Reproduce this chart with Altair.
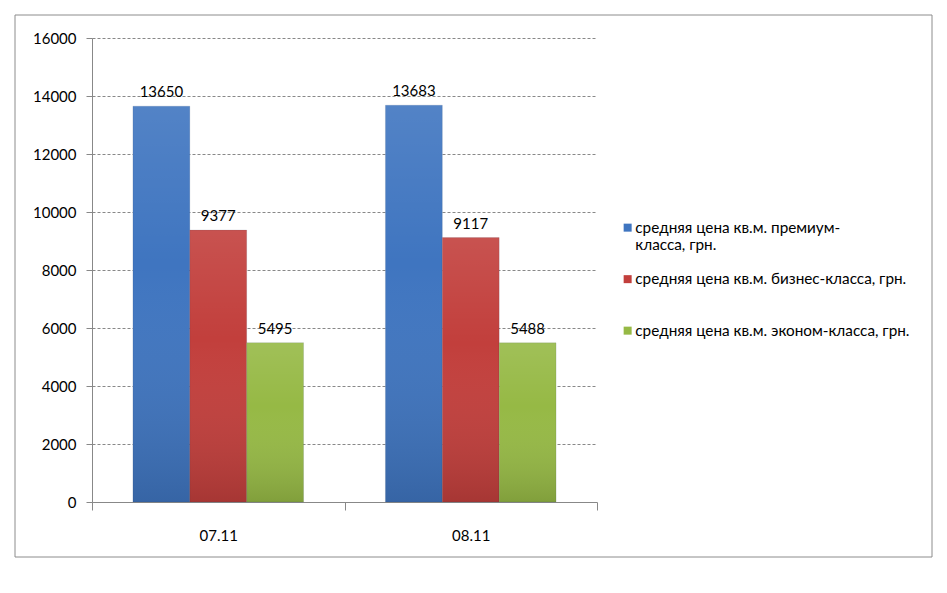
import altair as alt
import pandas as pd

dates = ["07.11", "08.11"]
series = [
    "средняя цена кв.м. премиум-класса, грн.",
    "средняя цена кв.м. бизнес-класса, грн.",
    "средняя цена кв.м. эконом-класса, грн.",
]
premium = [13650, 13683]
business = [9377, 9117]
economy = [5495, 5488]
colors = ["#3f75c0", "#c23f3c", "#96b945"]

rows = []
for i, d in enumerate(dates):
    for s, vals in zip(series, [premium, business, economy]):
        rows.append({"date": d, "series": s, "value": vals[i]})
df = pd.DataFrame(rows)

FONT = "Lato"

x_enc = alt.X("date:N", title=None,
              scale=alt.Scale(paddingInner=0, paddingOuter=0),
              axis=alt.Axis(labelAngle=0, tickBand="extent", tickSize=8,
                            labelPadding=18, labelFontSize=15, labelFont=FONT,
                            labelColor="#000", domainColor="#888", tickColor="#888"))
xo_enc = alt.XOffset("series:N", sort=series,
                     scale=alt.Scale(paddingInner=0, paddingOuter=0.72))
y_enc = alt.Y("value:Q", title=None,
              scale=alt.Scale(domain=[0, 16000]),
              axis=alt.Axis(values=list(range(0, 16001, 2000)), format="d", tickSize=6,
                            labelPadding=10, labelFontSize=15, labelFont=FONT,
                            labelColor="#000", domainColor="#888", tickColor="#888",
                            gridColor="#888", gridDash=[3, 2], grid=True))

base = alt.Chart(df)

bars = base.mark_bar(stroke="#2a3f5f", strokeOpacity=0.25, strokeWidth=0.5).encode(
    x=x_enc, xOffset=xo_enc, y=y_enc,
    color=alt.Color("series:N", sort=series,
                    scale=alt.Scale(domain=series, range=colors),
                    legend=alt.Legend(
                        title=None, orient="none", legendX=528, legendY=182,
                        symbolType="square", symbolSize=64, symbolStrokeWidth=0,
                        labelFont=FONT, labelFontSize=15.3, labelColor="#000",
                        labelLimit=400, rowPadding=17.5, padding=0, labelOffset=0,
                        labelExpr="datum.label == 'средняя цена кв.м. премиум-класса, грн.' ? ['средняя цена кв.м. премиум-', 'класса, грн.'] : [datum.label, '']",
                    )),
)

shade = base.mark_bar(
    fill=alt.Gradient(
        gradient="linear", x1=0, y1=0, x2=0, y2=1,
        stops=[alt.GradientStop(color="rgba(255,255,255,0.10)", offset=0),
               alt.GradientStop(color="rgba(255,255,255,0.0)", offset=0.4),
               alt.GradientStop(color="rgba(0,0,0,0.14)", offset=1)]),
).encode(x=alt.X("date:N"), xOffset=alt.XOffset("series:N", sort=series), y=alt.Y("value:Q"))

labels = base.mark_text(baseline="bottom", dy=-6, font=FONT, fontSize=15, color="#000").encode(
    x=alt.X("date:N"), xOffset=alt.XOffset("series:N", sort=series), y=alt.Y("value:Q"),
    text=alt.Text("value:Q", format="d"),
)

border = alt.Chart(pd.DataFrame({"a": [0]})).mark_rect(
    filled=False, stroke="#8c8c8c", strokeWidth=1, clip=False
).encode(x=alt.value(-77), x2=alt.value(840), y=alt.value(-23), y2=alt.value(519))

chart = alt.layer(bars, shade, labels, border).properties(
    width=505, height=464,
    autosize=alt.AutoSizeParams(type="none"),
    padding={"left": 92, "top": 38, "right": 350, "bottom": 91},
    background="white",
).configure_view(stroke=None)

chart.save("out.html", embed_options={"renderer": "svg", "actions": False})
